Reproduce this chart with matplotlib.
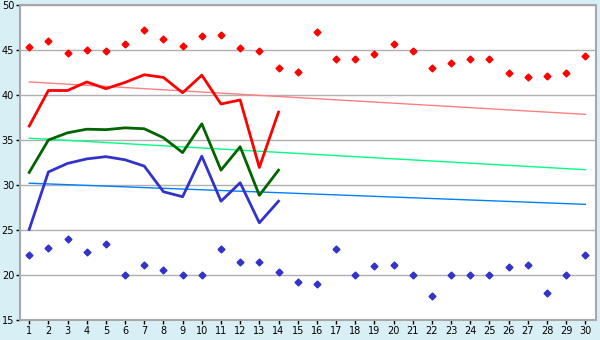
import numpy as np
import matplotlib
matplotlib.use("Agg")
import matplotlib.pyplot as plt

days = np.arange(1, 31)
days14 = np.arange(1, 15)

max_pts = [45.3, 46.0, 44.7, 45.0, 44.85, 45.7, 47.2, 46.2, 45.4, 46.5,
           46.7, 45.2, 44.85, 43.0, 42.55, 47.0, 44.0, 44.0, 44.5, 45.7,
           44.85, 43.0, 43.6, 44.0, 44.0, 42.5, 42.0, 42.1, 42.5, 44.3]
min_pts = [22.2, 23.0, 24.0, 22.6, 23.4, 20.0, 21.1, 20.6, 20.0, 20.0,
           22.85, 21.5, 21.5, 20.3, 19.2, 19.0, 22.85, 20.0, 21.0, 21.1,
           20.0, 17.7, 20.0, 20.0, 20.0, 20.9, 21.1, 18.0, 20.0, 22.2]

red_line = [36.55, 40.5, 40.5, 41.45, 40.7, 41.4, 42.25, 41.95, 40.25, 42.2,
            39.0, 39.45, 31.95, 38.1]
green_line = [31.4, 35.0, 35.8, 36.2, 36.15, 36.35, 36.25, 35.25, 33.6, 36.8,
              31.65, 34.25, 28.85, 31.65]
blue_line = [25.07, 31.45, 32.4, 32.9, 33.15, 32.8, 32.1, 29.25, 28.7, 33.2,
             28.2, 30.25, 25.8, 28.2]

# trend lines: value at day 1 and day 30
trend_days = [1, 30]
red_trend = [41.45, 37.85]
green_trend = [35.2, 31.7]
blue_trend = [30.2, 27.85]

fig = plt.figure(figsize=(6, 3.4), dpi=100)
fig.patch.set_facecolor('#d9eff6')
ax = fig.add_axes([0.034, 0.0588, 0.9585, 0.9265])
ax.set_facecolor('white')

ax.plot(trend_days, red_trend, color='#ff8080', lw=1, zorder=2)
ax.plot(trend_days, green_trend, color='#00ff80', lw=1, zorder=2)
ax.plot(trend_days, blue_trend, color='#0080ff', lw=1, zorder=2)

ax.plot(days14, red_line, color='#ff0000', lw=2, zorder=3)
ax.plot(days14, green_line, color='#006400', lw=2, zorder=3)
ax.plot(days14, blue_line, color='#3333cc', lw=2, zorder=3)

ax.plot(days, max_pts, ls='none', marker='D', ms=3.5, color='#ff0000', zorder=4)
ax.plot(days, min_pts, ls='none', marker='D', ms=3.5, color='#3333cc', zorder=4)

ax.set_xlim(0.54, 30.53)
ax.set_ylim(15, 50)
ax.set_xticks(days)
ax.set_yticks(np.arange(15, 51, 5))
ax.yaxis.grid(True, color='#b0b0b0', lw=1)
ax.set_axisbelow(True)
for s in ax.spines.values():
    s.set_color('#a8a8a8')
    s.set_linewidth(1.5)
ax.tick_params(axis='both', length=3, width=1, color='black', labelsize=7, pad=1.5)

fig.savefig('out.png', dpi=100, facecolor=fig.get_facecolor())
